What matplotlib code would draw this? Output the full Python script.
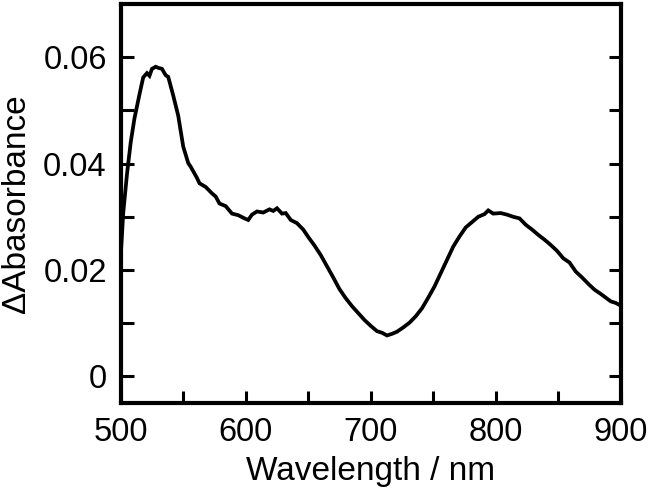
import numpy as np
import matplotlib.pyplot as plt

plt.rcParams['font.family'] = ['Liberation Sans', 'DejaVu Sans']

# spectrum
wavelength = [500, 502, 505, 508, 511, 515, 518, 521, 523, 525, 528, 530, 533, 536, 538,
              542, 546, 550, 554, 556, 561, 563, 568, 573, 576, 579, 584, 589, 594, 599,
              602, 605, 609, 614, 619, 622, 625, 629, 632, 636, 641, 646, 650, 655, 660,
              665, 670, 675, 680, 685, 690, 695, 700, 705, 709, 713, 717, 721, 726, 731,
              736, 741, 746, 751, 756, 761, 766, 771, 776, 781, 786, 791, 794, 798, 804,
              809, 814, 819, 824, 829, 834, 839, 844, 849, 854, 859, 864, 869, 874, 879,
              884, 888, 892, 896, 900]
dabs = [0.0225, 0.0307, 0.0380, 0.0440, 0.0485, 0.0530, 0.0562, 0.0570, 0.0565, 0.0578,
        0.0582, 0.0580, 0.0578, 0.0566, 0.0563, 0.0528, 0.0490, 0.0432, 0.0401, 0.0394,
        0.0373, 0.0363, 0.0356, 0.0344, 0.0338, 0.0325, 0.0320, 0.0306, 0.0303, 0.0297,
        0.0294, 0.0304, 0.0310, 0.0308, 0.0314, 0.0311, 0.0316, 0.0306, 0.0307, 0.0294,
        0.0288, 0.0276, 0.0262, 0.0246, 0.0228, 0.0207, 0.0186, 0.0164, 0.0147, 0.0132,
        0.0119, 0.0106, 0.0095, 0.0085, 0.0082, 0.0077, 0.0080, 0.0084, 0.0092, 0.0101,
        0.0113, 0.0128, 0.0148, 0.0169, 0.0194, 0.0219, 0.0244, 0.0263, 0.0280, 0.0290,
        0.0300, 0.0305, 0.0312, 0.0306, 0.0307, 0.0304, 0.0300, 0.0297, 0.0285, 0.0276,
        0.0266, 0.0257, 0.0247, 0.0236, 0.0222, 0.0214, 0.0197, 0.0186, 0.0174, 0.0163,
        0.0155, 0.0148, 0.0141, 0.0138, 0.0133]

xticks = [500, 600, 700, 800, 900]
yticks = [0, 0.02, 0.04, 0.06]
ytick_labels = ['0', '0.02', '0.04', '0.06']

fig = plt.figure(figsize=(6.49, 4.96), dpi=100)
ax = fig.add_axes([0.186, 0.1875, 0.7705, 0.8045])

ax.plot(wavelength, dabs, color='black', lw=2.7, solid_joinstyle='miter')

ax.set_xlim(500, 900)
ax.set_ylim(-0.005, 0.07)
ax.set_xticks(xticks)
ax.set_xticks(np.arange(500, 901, 50), minor=True)
ax.set_yticks(yticks)
ax.set_yticklabels(ytick_labels)
ax.set_yticks(np.arange(0, 0.061, 0.01), minor=True)

ax.tick_params(which='both', direction='in', right=True, top=False, width=2.2,
               labelsize=23.5, pad=10)
ax.tick_params(which='major', length=9)
ax.tick_params(which='minor', length=9)
for s in ax.spines.values():
    s.set_linewidth(3)

ax.set_xlabel('Wavelength / nm', fontsize=24, labelpad=6)
ax.set_ylabel('ΔAbasorbance', fontsize=24, labelpad=8)

fig.savefig('out.png', dpi=100)
